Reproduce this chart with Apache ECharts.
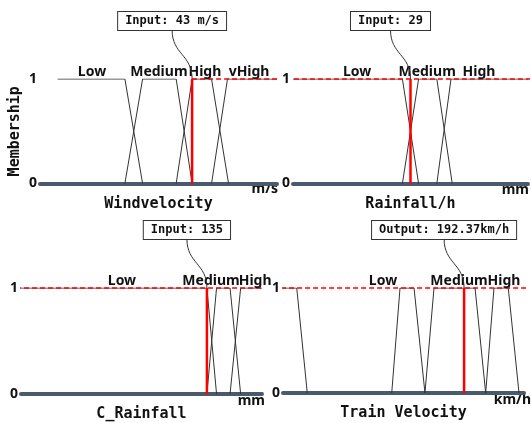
<!DOCTYPE html>
<html>
<head>
<meta charset="utf-8">
<script src="https://cdn.jsdelivr.net/npm/echarts@6/dist/echarts.min.js"></script>
<style>
html, body { margin: 0; padding: 0; background: #fff; }
#chart { width: 531px; height: 423px; }
</style>
</head>
<body>
<div id="chart"></div>
<script>
// membership functions, [x, membership]
var windLow = [[5, 1], [24, 1], [29, 0]];
var windMedium = [[24, 0], [29, 1], [38.5, 1], [43, 0]];
var windHigh = [[38.5, 0], [43, 1], [48.5, 1], [53.3, 0]];
var windVHigh = [[48.5, 0], [53, 1], [67, 1]];
var windLabels = [['Low', 14.7], ['Medium', 33.6], ['High', 46.6], ['vHigh', 59.1]];
var windInput = 43;

var rainLow = [[0, 1], [27, 1], [31, 0]];
var rainMedium = [[27, 0], [31, 1], [35.5, 1], [39.3, 0]];
var rainHigh = [[35.5, 0], [39, 1], [58, 1]];
var rainLabels = [['Low', 15.8], ['Medium', 33.1], ['High', 45.9]];
var rainInput = 29;

var cRainLow = [[0, 1], [135, 1], [142, 0]];
var cRainMedium = [[135, 0], [142, 1], [151.8, 1], [159.5, 0]];
var cRainHigh = [[151.8, 0], [159.5, 1], [175, 1]];
var cRainLabels = [['Low', 73.3], ['Medium', 138], ['High', 170]];
var cRainInput = 135;

var trainVLow = [[0, 1], [14.6, 1], [25.8, 0]];
var trainLow = [[115.5, 0], [124.3, 1], [139.2, 1], [150.8, 0]];
var trainMedium = [[150.8, 0], [160.4, 1], [204, 1], [215.3, 0]];
var trainHigh = [[215.3, 0], [224.1, 1], [239.3, 1], [250.7, 0]];
var trainLabels = [['Low', 106.2], ['Medium', 187], ['High', 234.8]];
var trainOutput = 192.37;

var panels = [
    { sets: [windLow, windMedium, windHigh, windVHigh], labels: windLabels, value: windInput,
      text: 'Input: 43 m/s', name: 'Windvelocity', max: 67, dash: [43, 67],
      grid: { left: 40, top: 79, width: 237, height: 104.5 } },
    { sets: [rainLow, rainMedium, rainHigh], labels: rainLabels, value: rainInput,
      text: 'Input: 29', name: 'Rainfall/h', max: 58, dash: [-5.7, 58.7],
      grid: { left: 293, top: 79, width: 235, height: 104.5 } },
    { sets: [cRainLow, cRainMedium, cRainHigh], labels: cRainLabels, value: cRainInput,
      text: 'Input: 135', name: 'C_Rainfall', max: 175, dash: [-15.2, 180.8],
      grid: { left: 21, top: 288, width: 241, height: 106 } },
    { sets: [trainVLow, trainLow, trainMedium, trainHigh], labels: trainLabels, value: trainOutput,
      text: 'Output: 192.37km/h', name: 'Train Velocity', max: 256, dash: [-19, 263.4],
      grid: { left: 283, top: 288, width: 241, height: 105 } }
];

var mono = '"DejaVu Sans Mono", monospace';
var sans = '"Noto Sans", sans-serif';

var grids = [], xAxes = [], yAxes = [], series = [];

panels.forEach(function(p, i) {
    grids.push(p.grid);
    xAxes.push({
        type: 'value', gridIndex: i, min: 0, max: p.max,
        name: p.name, nameLocation: 'middle', nameGap: 13,
        nameTextStyle: { fontFamily: mono, fontWeight: 'bold', fontSize: 15, color: '#111' },
        axisLine: { lineStyle: { color: '#4a5a6e', width: 4 } },
        axisTick: { show: false }, axisLabel: { show: false }, splitLine: { show: false }
    });
    yAxes.push({
        type: 'value', gridIndex: i, min: 0, max: 1, interval: 1,
        name: i === 0 ? 'Membership' : '', nameLocation: 'middle', nameGap: 17, nameRotate: 90,
        nameTextStyle: { fontFamily: mono, fontWeight: 'bold', fontSize: 15, color: '#111' },
        axisLine: { show: false }, axisTick: { show: false }, splitLine: { show: false },
        axisLabel: { margin: 3, fontFamily: sans, fontWeight: 'bold', fontSize: 14, color: '#111' }
    });
    p.sets.forEach(function(s) {
        series.push({
            type: 'line', xAxisIndex: i, yAxisIndex: i, data: s, showSymbol: false, silent: true,
            lineStyle: { color: '#333', width: 1 }, z: 3
        });
    });
    // dashed reference at membership 1
    series.push({
        type: 'line', xAxisIndex: i, yAxisIndex: i, clip: false, showSymbol: false, silent: true,
        data: [[p.dash[0], 1], [p.dash[1], 1]],
        lineStyle: { color: '#ff0000', width: 1.3, type: [5, 3] }, z: 4
    });
    // value marker
    series.push({
        type: 'line', xAxisIndex: i, yAxisIndex: i, showSymbol: false, silent: true,
        data: [[p.value, 0], [p.value, 1]],
        lineStyle: { color: '#ff0000', width: 2.5 }, z: 5
    });
    // set names
    series.push({
        type: 'scatter', xAxisIndex: i, yAxisIndex: i, symbolSize: 0, silent: true,
        itemStyle: { opacity: 1 },
        data: p.labels.map(function(l) { return { name: l[0], value: [l[1], 1] }; }),
        label: { show: true, position: 'top', distance: 0, formatter: '{b}',
                 fontFamily: sans, fontSize: 14, fontWeight: 'bold', color: '#111' },
        z: 6
    });
    // annotation box + connector
    series.push({
        type: 'custom', xAxisIndex: i, yAxisIndex: i, clip: false, silent: true, z: 7,
        data: [[p.value, 1]],
        renderItem: function(params, api) {
            var pt = api.coord([api.value(0), api.value(1)]);
            var cx = pt[0] - 20, bottom = pt[1] - 49;
            var mid = (bottom + pt[1]) / 2;
            return {
                type: 'group',
                children: [{
                    type: 'bezierCurve',
                    shape: { x1: cx, y1: bottom, cpx1: cx, cpy1: mid, cpx2: pt[0], cpy2: mid, x2: pt[0], y2: pt[1] },
                    style: { stroke: '#333', fill: null, lineWidth: 1 }
                }, {
                    type: 'text', x: cx, y: bottom,
                    style: {
                        text: p.text, font: 'bold 12px ' + mono, fill: '#111',
                        align: 'center', verticalAlign: 'bottom',
                        backgroundColor: '#fff', borderColor: '#333', borderWidth: 1, padding: [3, 7]
                    }
                }]
            };
        }
    });
});

var unitStyle = { fontFamily: sans, fontWeight: 'bold', fontSize: 14, fill: '#111', textAlign: 'right', textVerticalAlign: 'middle' };
function unit(text, x, y) {
    return { type: 'text', right: 531 - x, top: y - 10, style: Object.assign({ text: text }, unitStyle) };
}

var option = {
    animation: false,
    backgroundColor: '#fff',
    grid: grids,
    xAxis: xAxes,
    yAxis: yAxes,
    series: series,
    graphic: [
        unit('m/s', 278, 192),
        unit('mm', 529, 193),
        unit('mm', 265, 404),
        unit('km/h', 531, 403)
    ]
};

echarts.init(document.getElementById('chart')).setOption(option);
</script>
</body>
</html>
